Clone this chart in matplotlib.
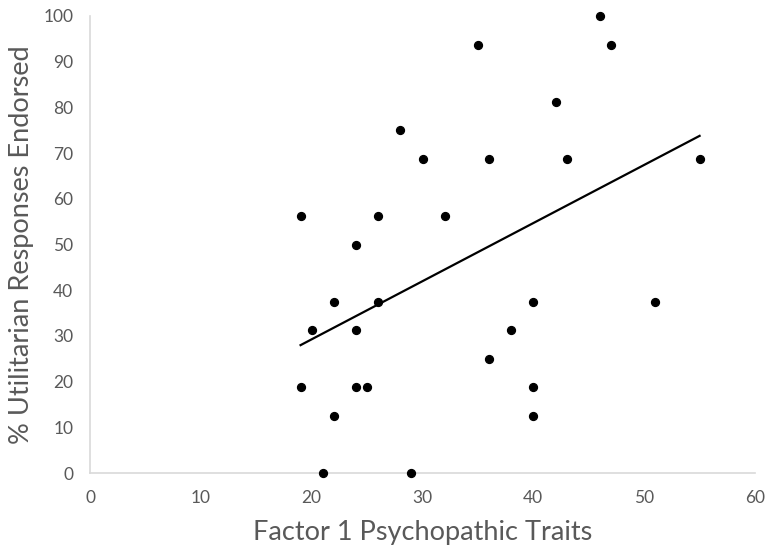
import matplotlib
matplotlib.use('Agg')

import matplotlib.pyplot as plt
import numpy as np

# Factor 1 psychopathy score vs. % utilitarian responses
faktor1 = [19, 19, 20, 21, 22, 22, 24, 24, 24, 25, 26, 26, 28, 29, 30,
           32, 35, 36, 36, 38, 40, 40, 40, 42, 43, 46, 47, 51, 55]
utilitaer = [56.25, 18.75, 31.25, 0, 37.5, 12.5, 50, 31.25, 18.75, 18.75,
             56.25, 37.5, 75, 0, 68.75, 56.25, 93.75, 68.75, 25, 31.25,
             37.5, 18.75, 12.5, 81.25, 68.75, 100, 93.75, 37.5, 68.75]

x_ticks = [0, 10, 20, 30, 40, 50, 60]
y_ticks = [0, 10, 20, 30, 40, 50, 60, 70, 80, 90, 100]

plt.rcParams['font.family'] = ['Lato', 'DejaVu Sans']

fig = plt.figure(figsize=(7.68, 5.48), dpi=100)
ax = fig.add_axes([90 / 768, 75 / 548, 665 / 768, 457 / 548])

x = np.array(faktor1, dtype=float)
y = np.array(utilitaer, dtype=float)
ax.scatter(x, y, s=32, color='black', zorder=3, clip_on=False)

# linear trendline
steigung, achse = np.polyfit(x, y, 1)
xs = np.array([x.min(), x.max()])
ax.plot(xs, steigung * xs + achse, color='black', linewidth=1.6)

ax.set_xlim(0, 60)
ax.set_ylim(0, 100)
ax.set_xticks(x_ticks)
ax.set_yticks(y_ticks)
ax.tick_params(length=0, labelsize=12.5, labelcolor='#595959')
ax.tick_params(axis='x', pad=12)
ax.tick_params(axis='y', pad=12)

for seite in ['top', 'right']:
    ax.spines[seite].set_visible(False)
for seite in ['left', 'bottom']:
    ax.spines[seite].set_color('#d9d9d9')
    ax.spines[seite].set_linewidth(1.2)

ax.set_xlabel("Factor 1 Psychopathic Traits", fontsize=19.5, color='#595959', labelpad=10)
ax.set_ylabel("% Utilitarian Responses Endorsed", fontsize=19.5, color='#595959', labelpad=7)

plt.savefig("out.png", dpi=100)
